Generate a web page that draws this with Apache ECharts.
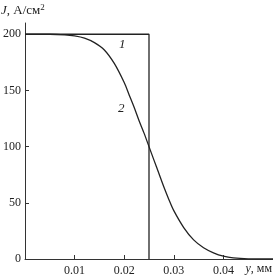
<!DOCTYPE html>
<html><head><meta charset="utf-8">
<script src="https://cdn.jsdelivr.net/npm/echarts@6/dist/echarts.min.js"></script>
<style>html,body{margin:0;padding:0;background:#fff}#c{width:273px;height:279px}</style>
</head><body><div id="c"></div>
<script>
const xTicks = [0.01, 0.02, 0.03, 0.04];
const yTicks = [0, 50, 100, 150, 200];
const curve1 = [[0, 200], [0.025, 200], [0.025, 0]];
const curve2X = [0, 0.005, 0.008, 0.010, 0.012, 0.014, 0.016, 0.018, 0.020, 0.021, 0.022, 0.023, 0.024, 0.025, 0.026, 0.027, 0.028, 0.029, 0.030, 0.032, 0.034, 0.036, 0.038, 0.040, 0.042, 0.045, 0.050];
const curve2Y = [200, 200, 199.5, 198.5, 196.5, 192.5, 186, 174, 157, 146, 135, 123, 112, 100, 88, 76, 64, 53, 43, 28, 17, 10, 5.5, 2.5, 1, 0.2, 0];
const labels = [{text: '1', x: 0.0196, y: 191}, {text: '2', x: 0.0194, y: 134}];

const font = 'Liberation Serif';
const chart = echarts.init(document.getElementById('c'));
chart.setOption({
  animation: false,
  grid: {left: 24, right: 0, top: 23, bottom: 20},
  xAxis: {
    type: 'value', min: 0, max: 0.05, interval: 0.01,
    axisLine: {lineStyle: {color: '#333', width: 1}},
    axisTick: {inside: true, length: 4, customValues: xTicks, lineStyle: {color: '#333'}},
    axisLabel: {customValues: xTicks, color: '#222', fontFamily: font, fontSize: 12, margin: 6},
    splitLine: {show: false}
  },
  yAxis: {
    type: 'value', min: 0, max: 210,
    axisLine: {show: true, lineStyle: {color: '#333', width: 1}},
    axisTick: {show: true, inside: true, length: 4, customValues: yTicks, lineStyle: {color: '#333'}},
    axisLabel: {customValues: yTicks, color: '#222', fontFamily: font, fontSize: 12, margin: 4},
    splitLine: {show: false}
  },
  series: [
    {type: 'line', data: curve1, symbol: 'none', lineStyle: {color: '#222', width: 1.3}},
    {type: 'line', data: curve2X.map((x, i) => [x, curve2Y[i]]), smooth: 0.3, symbol: 'none', lineStyle: {color: '#222', width: 1.3}}
  ]
});
const g = labels.map(l => {
  const p = chart.convertToPixel({gridIndex: 0}, [l.x, l.y]);
  return {type: 'text', x: p[0], y: p[1], style: {text: l.text, font: 'italic 13px ' + font, fill: '#222', align: 'center', verticalAlign: 'middle'}};
});
g.push({type: 'text', left: 1, top: 3, style: {rich: {i: {fontStyle: 'italic', fontFamily: font, fontSize: 13, fill: '#222'}, n: {fontFamily: font, fontSize: 13, fill: '#222'}, s: {fontFamily: font, fontSize: 9, fill: '#222', verticalAlign: 'top', padding: [0,0,6,0]}}, text: '{i|J}{n|, А/см}{s|2}'}});
g.push({type: 'text', right: 1, top: 263, style: {rich: {i: {fontStyle: 'italic', fontFamily: font, fontSize: 12, fill: '#222'}, n: {fontFamily: font, fontSize: 12, fill: '#222'}}, text: '{i|y}{n|, мм}'}});
chart.setOption({graphic: g});
</script></body></html>
